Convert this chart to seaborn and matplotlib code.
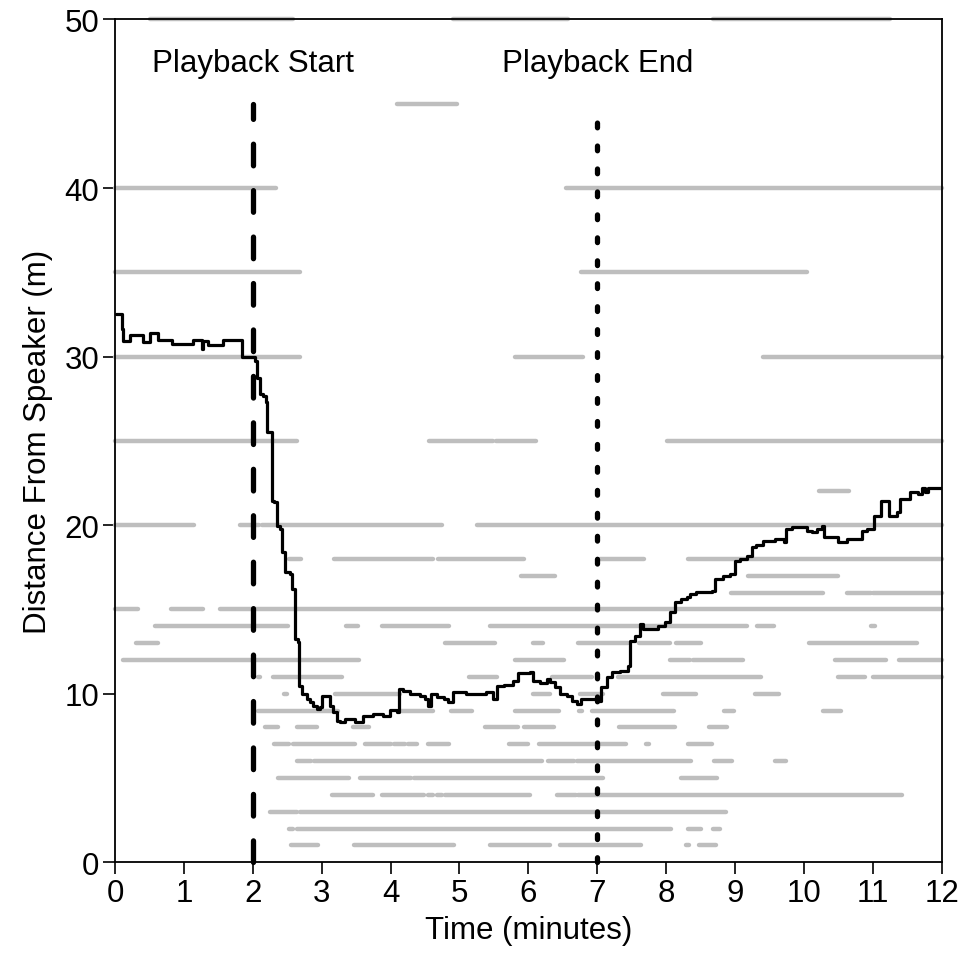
import numpy as np
import pandas as pd
import matplotlib
matplotlib.use("Agg")
import matplotlib.pyplot as plt
import seaborn as sns

# Individual tracks: each row is a distance (m) with the time spans (min) spent there
seg_distance = [
    50, 50, 50,
    45,
    40, 40,
    35, 35,
    30, 30, 30,
    25, 25, 25, 25,
    22,
    20, 20, 20, 20,
    18, 18, 18, 18, 18,
    17, 17,
    16, 16, 16,
    15, 15, 15,
    14, 14, 14, 14, 14, 14,
    13, 13, 13, 13, 13, 13, 13,
    12, 12, 12, 12, 12, 12,
    11, 11, 11, 11, 11, 11, 11,
    10, 10, 10, 10, 10, 10,
    9, 9, 9, 9, 9, 9, 9, 9,
    8, 8, 8, 8, 8, 8, 8,
    7, 7, 7, 7, 7, 7, 7, 7, 7, 7,
    6, 6, 6, 6, 6, 6,
    5, 5, 5, 5,
    4, 4, 4, 4, 4, 4, 4,
    3, 3,
    2, 2, 2, 2,
    1, 1, 1, 1, 1, 1,
]
seg_start = [
    0.51, 4.91, 8.68,
    4.09,
    0.00, 6.54,
    0.00, 6.76,
    0.00, 5.81, 9.40,
    0.00, 4.56, 5.53, 8.01,
    10.22,
    0.00, 1.81, 2.14, 5.25,
    2.53, 3.18, 4.69, 7.04, 8.31,
    5.89, 9.19,
    8.94, 10.62, 11.00,
    0.00, 0.81, 1.52,
    0.58, 3.35, 3.88, 5.45, 9.32, 10.97,
    0.30, 4.79, 6.06, 6.72, 7.61, 8.14, 10.08,
    0.11, 5.81, 8.06, 8.39, 10.45, 11.38,
    2.07, 2.30, 5.14, 6.35, 7.30, 10.49, 11.00,
    2.46, 3.20, 6.07, 6.75, 7.96, 9.29,
    2.08, 4.14, 4.88, 5.81, 6.74, 6.93, 8.84, 10.27,
    2.18, 2.64, 3.46, 5.37, 5.94, 7.32, 8.62,
    2.31, 2.59, 3.63, 4.05, 4.26, 4.54, 5.72, 6.16, 7.71, 8.32,
    2.64, 2.89, 6.28, 6.70, 8.69, 9.58,
    2.37, 3.55, 4.34, 8.21,
    3.15, 3.88, 4.55, 4.68, 4.79, 6.42, 6.72,
    2.25, 2.69,
    2.52, 2.64, 8.31, 8.68,
    2.56, 3.47, 5.45, 6.46, 8.29, 8.47,
]
seg_end = [
    2.59, 6.58, 11.25,
    4.96,
    2.34, 12.00,
    2.69, 10.05,
    2.69, 6.80, 12.00,
    2.64, 5.49, 6.11, 12.00,
    10.65,
    1.15, 2.09, 4.75, 12.00,
    2.70, 4.62, 5.94, 7.68, 12.00,
    6.39, 10.50,
    10.27, 10.97, 12.00,
    0.34, 1.27, 12.00,
    2.51, 3.53, 4.85, 9.17, 9.56, 11.03,
    0.63, 5.51, 6.21, 7.44, 8.06, 8.50, 11.64,
    3.54, 6.51, 8.35, 9.12, 11.19, 12.00,
    2.11, 3.30, 5.55, 6.93, 9.37, 10.89, 12.00,
    2.50, 4.14, 6.32, 7.09, 8.44, 9.64,
    3.24, 4.61, 5.18, 6.44, 6.78, 8.12, 8.99, 10.54,
    2.36, 2.93, 3.68, 5.85, 6.37, 8.13, 8.89,
    2.53, 3.49, 4.01, 4.21, 4.39, 4.85, 5.99, 7.42, 7.75, 8.67,
    2.84, 6.20, 6.66, 8.36, 8.96, 9.74,
    3.40, 4.30, 7.09, 8.74,
    3.75, 4.48, 4.62, 4.74, 6.03, 6.69, 11.42,
    2.64, 8.87,
    2.59, 8.07, 8.50, 8.78,
    2.94, 4.92, 6.31, 7.64, 8.33, 8.72,
]

# Mean distance from the speaker over time
mean_time = [
    0.015, 0.073, 0.097, 0.121, 0.218, 0.218, 0.411, 0.411, 0.508, 0.508,
    0.629, 0.629, 0.822, 0.822, 1.137, 1.137, 1.234, 1.258, 1.282, 1.355,
    1.548, 1.572, 1.838, 1.838, 1.983, 2.03, 2.066, 2.10, 2.15, 2.187,
    2.20, 2.25, 2.274, 2.31, 2.346, 2.395, 2.42, 2.467, 2.54, 2.564,
    2.61, 2.66, 2.675, 2.71, 2.78, 2.83, 2.88, 2.93, 2.975, 3.0,
    3.07, 3.12, 3.17, 3.22, 3.27, 3.34, 3.48, 3.60, 3.75, 3.89,
    3.99, 4.09, 4.12, 4.18, 4.28, 4.43, 4.50, 4.55, 4.59, 4.67,
    4.77, 4.84, 4.91, 5.01, 5.10, 5.25, 5.39, 5.49, 5.54, 5.64,
    5.78, 5.85, 6.02, 6.07, 6.17, 6.27, 6.31, 6.39, 6.46, 6.56,
    6.63, 6.70, 6.77, 6.97, 7.02, 7.06, 7.14, 7.21, 7.33, 7.45,
    7.47, 7.55, 7.62, 7.67, 7.88, 7.98, 8.06, 8.13, 8.22, 8.30,
    8.35, 8.44, 8.66, 8.71, 8.83, 8.93, 9.0, 9.07, 9.17, 9.24,
    9.31, 9.41, 9.58, 9.71, 9.74, 9.82, 9.99, 10.04, 10.11, 10.19,
    10.26, 10.29, 10.45, 10.50, 10.62, 10.79, 10.84, 10.91, 11.01, 11.10,
    11.12, 11.23, 11.24, 11.35, 11.39, 11.51, 11.54, 11.66, 11.71, 11.76,
    11.80, 12.0,
]
mean_dist = [
    32.52, 32.52, 31.63, 30.94, 30.94, 31.29, 31.24, 30.88, 30.88, 31.43,
    31.43, 31.0, 31.0, 30.74, 30.74, 31.0, 31.0, 30.45, 30.94, 30.7,
    30.7, 31.0, 31.0, 29.99, 29.99, 29.75, 28.76, 27.77, 27.68, 27.28,
    25.5, 25.5, 21.45, 21.35, 19.97, 19.77, 18.39, 17.25, 17.1, 16.21,
    13.24, 13.05, 10.48, 9.98, 9.69, 9.49, 9.29, 9.10, 9.19, 9.88,
    9.88, 9.29, 8.89, 8.40, 8.30, 8.50, 8.30, 8.70, 8.80, 8.70,
    9.05, 8.89, 10.28, 10.18, 9.98, 9.88, 9.69, 9.29, 9.98, 9.79,
    9.69, 9.49, 10.08, 10.08, 9.98, 9.98, 10.08, 9.69, 10.48, 10.52,
    10.78, 11.22, 11.27, 10.78, 10.64, 10.88, 10.68, 10.38, 9.98, 9.88,
    9.59, 9.39, 9.69, 9.69, 9.59, 10.38, 10.97, 11.27, 11.37, 11.66,
    13.14, 13.44, 14.13, 13.84, 14.03, 14.23, 14.83, 15.42, 15.62, 15.72,
    15.91, 16.01, 16.11, 16.80, 17.0, 17.1, 17.89, 17.99, 18.19, 18.68,
    18.82, 19.08, 19.17, 18.98, 19.77, 19.87, 19.91, 19.67, 19.57, 19.77,
    19.96, 19.27, 19.27, 18.98, 19.17, 19.17, 19.67, 19.77, 20.56, 20.56,
    21.45, 21.45, 20.56, 20.76, 21.55, 21.55, 21.98, 21.84, 22.18, 21.94,
    22.18, 22.18,
]

playback_start = 2
playback_end = 7
x_ticks = list(range(0, 13))
y_ticks = [0, 10, 20, 30, 40, 50]

sns.set_style("ticks")
plt.rcParams["font.family"] = ["Liberation Sans", "DejaVu Sans"]
plt.rcParams["font.size"] = 22.5
plt.rcParams["text.color"] = "black"
plt.rcParams["axes.labelcolor"] = "black"
plt.rcParams["xtick.color"] = "black"
plt.rcParams["ytick.color"] = "black"

fig = plt.figure(figsize=(9.64, 9.62), dpi=100)
ax = fig.add_axes([0.1193, 0.1026, 0.8576, 0.8761])

# long-form table: two points per segment, one unit per segment
n = len(seg_distance)
segs = pd.DataFrame({
    "seg": np.repeat(np.arange(n), 2),
    "time": np.ravel(np.column_stack([seg_start, seg_end])),
    "dist": np.repeat(seg_distance, 2),
})
sns.lineplot(data=segs, x="time", y="dist", units="seg", estimator=None,
             color="#bebebe", linewidth=3.2, solid_capstyle="round",
             sort=False, ax=ax, clip_on=False, zorder=1)

mean_df = pd.DataFrame({"time": mean_time, "dist": mean_dist})
sns.lineplot(data=mean_df, x="time", y="dist", estimator=None, sort=False,
             color="black", linewidth=2.3, drawstyle="steps-post", ax=ax,
             zorder=3)

ax.plot([playback_start, playback_start], [0, 45], color="black",
        linewidth=3.8, linestyle=(0, (4.1, 4.7)), dash_capstyle="round",
        zorder=4, clip_on=False)
ax.plot([playback_end, playback_end], [0, 44.3], color="black",
        linewidth=3.8, linestyle=(0, (0.9, 3.45)), dash_capstyle="round",
        zorder=4, clip_on=False)

ax.text(playback_start, 47.4, "Playback Start", ha="center", va="center",
        color="black")
ax.text(playback_end, 47.4, "Playback End", ha="center", va="center",
        color="black")

ax.set_xlim(0, 12)
ax.set_ylim(0, 50)
ax.set_xticks(x_ticks)
ax.set_yticks(y_ticks)
ax.set_xlabel("Time (minutes)", labelpad=5)
ax.set_ylabel("Distance From Speaker (m)", labelpad=8)
ax.tick_params(direction="out", length=8.5, width=1.2, pad=3, colors="black")
for side in ["top", "right", "bottom", "left"]:
    ax.spines[side].set_visible(True)
    ax.spines[side].set_color("black")
    ax.spines[side].set_linewidth(1.3)
ax.set_facecolor("white")
fig.patch.set_facecolor("white")

fig.savefig("out.png", dpi=100, facecolor="white")
